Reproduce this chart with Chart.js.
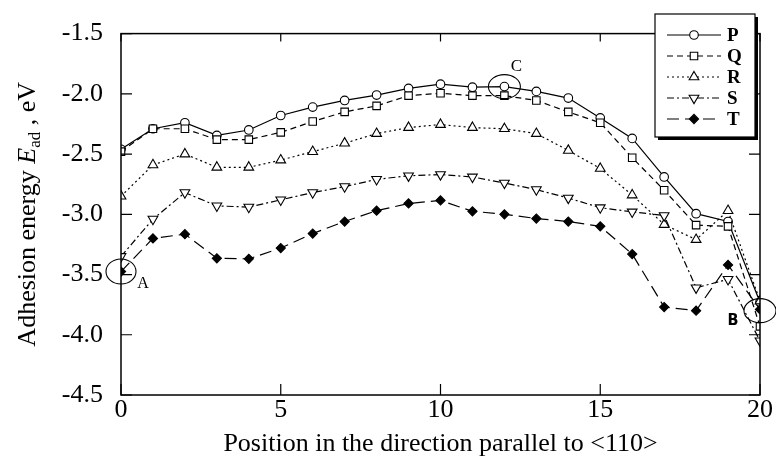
<!DOCTYPE html>
<html>
<head>
<meta charset="utf-8">
<script src="https://cdn.jsdelivr.net/npm/chart.js@4.4.1/dist/chart.umd.min.js"></script>
<style>
  html, body { margin: 0; padding: 0; background: #ffffff; }
  canvas { display: block; }
</style>
</head>
<body>
<canvas id="chart" width="776" height="460"></canvas>
<script>
// Positions along <110>
const positions = [0, 1, 2, 3, 4, 5, 6, 7, 8, 9, 10, 11, 12, 13, 14, 15, 16, 17, 18, 19, 20];

// Adhesion energy (eV) for each configuration
const seriesP = [-2.46, -2.29, -2.24, -2.345, -2.30, -2.18, -2.11, -2.055, -2.01, -1.955, -1.92,
                 -1.945, -1.94, -1.98, -2.035, -2.20, -2.37, -2.69, -2.995, -3.06, -3.73];
const seriesQ = [-2.48, -2.29, -2.29, -2.38, -2.38, -2.32, -2.23, -2.15, -2.10, -2.015, -1.995,
                 -2.015, -2.015, -2.055, -2.15, -2.24, -2.53, -2.80, -3.09, -3.10, -3.93];
const seriesR = [-2.85, -2.59, -2.50, -2.61, -2.61, -2.55, -2.48, -2.41, -2.33, -2.28, -2.255,
                 -2.28, -2.29, -2.33, -2.47, -2.62, -2.84, -3.085, -3.21, -2.97, -3.72];
const seriesS = [-3.35, -3.04, -2.82, -2.93, -2.94, -2.88, -2.82, -2.77, -2.71, -2.68, -2.67,
                 -2.69, -2.74, -2.795, -2.865, -2.945, -2.98, -3.01, -3.61, -3.54, -4.05];
const seriesT = [-3.475, -3.20, -3.165, -3.365, -3.37, -3.28, -3.16, -3.06, -2.97, -2.91, -2.885,
                 -2.975, -3.00, -3.035, -3.06, -3.10, -3.33, -3.77, -3.80, -3.42, -3.79];

const seriesNames = ['P', 'Q', 'R', 'S', 'T'];

// Axis ticks
const xTickValues = [0, 5, 10, 15, 20];
const yTickValues = [-4.5, -4.0, -3.5, -3.0, -2.5, -2.0, -1.5];

// Marked sites: label, position, energy
const markLabels = ['A', 'B', 'C'];
const markX = [0, 20, 12];
const markY = [-3.475, -3.80, -1.94];

const SERIF = '"Liberation Serif", "Times New Roman", serif';

function makeSet(name, values, style) {
  return Object.assign({
    label: name,
    data: positions.map((x, i) => ({ x: x, y: values[i] })),
    borderColor: '#000',
    borderWidth: 1.2,
    pointBorderColor: '#000',
    pointBorderWidth: 1.1,
    pointBackgroundColor: '#fff',
    tension: 0,
    fill: false
  }, style);
}

const datasets = [
  makeSet(seriesNames[4], seriesT, { borderDash: [12, 6], pointStyle: 'rectRot', pointRadius: 4.6, pointBackgroundColor: '#000' }),
  makeSet(seriesNames[3], seriesS, { borderDash: [7, 3, 2, 3], pointStyle: 'triangle', pointRotation: 180, pointRadius: 5.6 }),
  makeSet(seriesNames[2], seriesR, { borderDash: [2, 3], pointStyle: 'triangle', pointRadius: 5.6 }),
  makeSet(seriesNames[1], seriesQ, { borderDash: [6, 4], pointStyle: 'rect', pointRadius: 5.3 }),
  makeSet(seriesNames[0], seriesP, { borderDash: [], pointStyle: 'circle', pointRadius: 4.3 })
];

function drawMarker(ctx, ds, x, y) {
  ctx.save();
  ctx.setLineDash([]);
  ctx.lineWidth = ds.pointBorderWidth;
  ctx.strokeStyle = ds.pointBorderColor;
  ctx.fillStyle = ds.pointBackgroundColor;
  Chart.helpers.drawPoint(ctx, {
    pointStyle: ds.pointStyle,
    rotation: ds.pointRotation || 0,
    radius: ds.pointRadius,
    borderWidth: ds.pointBorderWidth
  }, x, y);
  ctx.restore();
}

// Frame, inward ticks, axis title, key and site marks
const decorations = {
  id: 'decorations',
  afterDraw(chart) {
    const ctx = chart.ctx;
    const a = chart.chartArea;
    const xs = chart.scales.x, ys = chart.scales.y;
    ctx.save();

    // frame
    ctx.strokeStyle = '#000';
    ctx.lineWidth = 1.5;
    ctx.setLineDash([]);
    ctx.strokeRect(a.left, a.top, a.right - a.left, a.bottom - a.top);

    // inward ticks on all four sides
    ctx.lineWidth = 1.2;
    ctx.beginPath();
    xTickValues.forEach(v => {
      const px = xs.getPixelForValue(v);
      ctx.moveTo(px, a.bottom); ctx.lineTo(px, a.bottom - 11);
      ctx.moveTo(px, a.top); ctx.lineTo(px, a.top + 8);
    });
    yTickValues.forEach(v => {
      const py = ys.getPixelForValue(v);
      ctx.moveTo(a.left, py); ctx.lineTo(a.left + 11, py);
      ctx.moveTo(a.right, py); ctx.lineTo(a.right - 11, py);
    });
    ctx.stroke();

    // y axis title with italic symbol and subscript
    ctx.save();
    ctx.translate(26, (a.top + a.bottom) / 2);
    ctx.rotate(-Math.PI / 2);
    ctx.fillStyle = '#000';
    ctx.textBaseline = 'alphabetic';
    const parts = [
      { t: 'Adhesion energy ', f: '26px ' + SERIF, dy: 0 },
      { t: 'E', f: 'italic 26px ' + SERIF, dy: 0 },
      { t: 'ad', f: '17px ' + SERIF, dy: 5 },
      { t: ' , eV', f: '26px ' + SERIF, dy: 0 }
    ];
    let total = 0;
    parts.forEach(p => { ctx.font = p.f; p.w = ctx.measureText(p.t).width; total += p.w; });
    let cx = -total / 2;
    parts.forEach(p => {
      ctx.font = p.f;
      ctx.textAlign = 'left';
      ctx.fillText(p.t, cx, 9 + p.dy);
      cx += p.w;
    });
    ctx.restore();

    // key
    const kx = 655, ky = 14, kw = 100, kh = 123;
    ctx.fillStyle = '#000';
    ctx.fillRect(kx + 3, ky + 3, kw, kh);
    ctx.fillStyle = '#fff';
    ctx.fillRect(kx, ky, kw, kh);
    ctx.lineWidth = 1.2;
    ctx.strokeStyle = '#000';
    ctx.strokeRect(kx, ky, kw, kh);
    const order = [4, 3, 2, 1, 0];
    order.forEach((di, row) => {
      const ds = chart.data.datasets[di];
      const yy = 35 + row * 21;
      ctx.save();
      ctx.strokeStyle = '#000';
      ctx.lineWidth = ds.borderWidth;
      ctx.setLineDash(ds.borderDash || []);
      ctx.beginPath();
      ctx.moveTo(667, yy); ctx.lineTo(721, yy);
      ctx.stroke();
      ctx.restore();
      drawMarker(ctx, ds, 694, yy);
      ctx.fillStyle = '#000';
      ctx.font = 'bold 19px ' + SERIF;
      ctx.textAlign = 'left';
      ctx.textBaseline = 'middle';
      ctx.fillText(ds.label, 727, yy + 1);
    });

    // marked sites
    const ellip = [[15, 12.5], [16, 12], [16, 12]];
    const labelOff = [[22, 12], [-27, 10], [12, -20]];
    const labelFont = ['16px ' + SERIF, 'bold 16px "Liberation Sans Narrow", "DejaVu Sans Condensed", sans-serif', '17px ' + SERIF];
    markLabels.forEach((lab, i) => {
      const px = xs.getPixelForValue(markX[i]);
      const py = ys.getPixelForValue(markY[i]);
      ctx.beginPath();
      ctx.lineWidth = 1.1;
      ctx.strokeStyle = '#000';
      ctx.setLineDash([]);
      ctx.ellipse(px, py, ellip[i][0], ellip[i][1], 0, 0, Math.PI * 2);
      ctx.stroke();
      ctx.fillStyle = '#000';
      ctx.font = labelFont[i];
      ctx.textAlign = 'center';
      ctx.textBaseline = 'middle';
      ctx.fillText(lab, px + labelOff[i][0], py + labelOff[i][1]);
    });

    ctx.restore();
  }
};

new Chart(document.getElementById('chart'), {
  type: 'line',
  data: { datasets: datasets },
  options: {
    responsive: false,
    animation: false,
    devicePixelRatio: 1,
    layout: { padding: { top: 30, right: 16, left: 0, bottom: 0 } },
    plugins: { legend: { display: false }, tooltip: { enabled: false }, title: { display: false } },
    scales: {
      x: {
        type: 'linear',
        min: 0, max: 20,
        afterFit: s => { s.height = 65; },
        afterBuildTicks: s => { s.ticks = xTickValues.map(v => ({ value: v })); },
        grid: { display: false, drawTicks: false },
        border: { display: false },
        ticks: { color: '#000', padding: 0, maxRotation: 0, font: { family: SERIF, size: 26 }, callback: v => String(v) },
        title: { display: true, text: 'Position in the direction parallel to <110>', color: '#000',
                 font: { family: SERIF, size: 26 }, padding: { top: 0, bottom: 0 } }
      },
      y: {
        type: 'linear',
        min: -4.5, max: -1.5,
        afterFit: s => { s.width = 121; },
        afterBuildTicks: s => { s.ticks = yTickValues.map(v => ({ value: v })); },
        grid: { display: false, drawTicks: false },
        border: { display: false },
        ticks: { color: '#000', padding: 18, font: { family: SERIF, size: 26 }, callback: v => Number(v).toFixed(1) }
      }
    }
  },
  plugins: [decorations]
});
</script>
</body>
</html>
